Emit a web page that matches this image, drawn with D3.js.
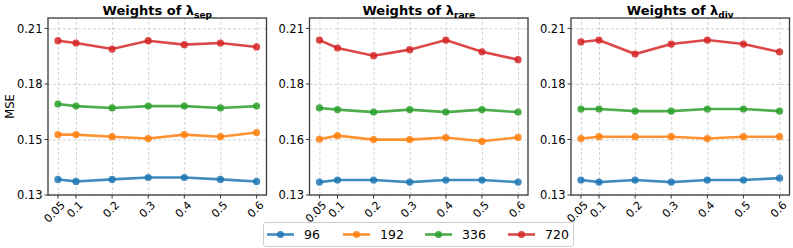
<!DOCTYPE html>
<html>
<head>
<meta charset="utf-8">
<script src="https://cdn.jsdelivr.net/npm/d3@7"></script>
<style>
  body { margin: 0; background: #fff; }
  svg text { font-family: "DejaVu Sans", sans-serif; }
  .grid line { stroke: #b0b0b0; stroke-dasharray: 3,2; stroke-width: 0.8; opacity: 0.7; }
  .grid .domain { display: none; }
</style>
</head>
<body>
<script>
// data
const weights = [0.05, 0.1, 0.2, 0.3, 0.4, 0.5, 0.6];
const weightLabels = ["0.05", "0.1", "0.2", "0.3", "0.4", "0.5", "0.6"];
const horizons = ["96", "192", "336", "720"];
const colors = ["#1f77b4", "#ff7f0e", "#2ca02c", "#d62728"];

// one row per horizon (96, 192, 336, 720)
const sepValues = [
    [0.1375, 0.1365, 0.1375, 0.1384, 0.1384, 0.1375, 0.1365],
    [0.1590, 0.1590, 0.1580, 0.1571, 0.1590, 0.1580, 0.1600],
    [0.1737, 0.1727, 0.1718, 0.1727, 0.1727, 0.1718, 0.1727],
    [0.2041, 0.2030, 0.2001, 0.2041, 0.2022, 0.2030, 0.2011]
];
const rareValues = [
    [0.1362, 0.1372, 0.1372, 0.1362, 0.1372, 0.1372, 0.1362],
    [0.1568, 0.1585, 0.1566, 0.1566, 0.1576, 0.1558, 0.1577],
    [0.1718, 0.1710, 0.1698, 0.1710, 0.1698, 0.1710, 0.1698],
    [0.2044, 0.2006, 0.1969, 0.1998, 0.2044, 0.1988, 0.1950]
];
const divValues = [
    [0.1372, 0.1362, 0.1372, 0.1362, 0.1372, 0.1372, 0.1381],
    [0.1571, 0.1580, 0.1580, 0.1580, 0.1571, 0.1580, 0.1580],
    [0.1713, 0.1713, 0.1703, 0.1703, 0.1713, 0.1713, 0.1703],
    [0.2035, 0.2044, 0.1977, 0.2025, 0.2044, 0.2025, 0.1987]
];

const yTickValues = [0.13, 0.13 + 0.08 / 3, 0.13 + 0.16 / 3, 0.21];
const sepYLabels = ["0.13", "0.15", "0.18", "0.21"];
const rareYLabels = ["0.13", "0.16", "0.18", "0.21"];
const divYLabels = ["0.13", "0.16", "0.18", "0.21"];

const panels = [
    { sub: "sep", values: sepValues, yLabels: sepYLabels, left: 48 },
    { sub: "rare", values: rareValues, yLabels: rareYLabels, left: 309.5 },
    { sub: "div", values: divValues, yLabels: divYLabels, left: 571 }
];

const W = 793, H = 248;
const plotTop = 18, plotBottom = 195, pw = 218.5;

const svg = d3.select("body").append("svg")
    .attr("width", W)
    .attr("height", H);

const x = d3.scaleLinear().domain([0.0225, 0.6275]).range([0, pw]);
const y = d3.scaleLinear().domain([0.13, 0.215]).range([plotBottom, plotTop]);

panels.forEach(p => {
    const g = svg.append("g").attr("transform", "translate(" + p.left + ",0)");

    // gridlines
    g.append("g")
        .attr("class", "grid")
        .attr("transform", "translate(0," + plotBottom + ")")
        .call(d3.axisBottom(x).tickValues(weights).tickFormat("").tickSize(-(plotBottom - plotTop)));
    g.append("g")
        .attr("class", "grid")
        .call(d3.axisLeft(y).tickValues(yTickValues).tickFormat("").tickSize(-pw));

    // lines + markers
    const line = d3.line()
        .x((d, i) => x(weights[i]))
        .y(d => y(d));

    p.values.forEach((vals, k) => {
        g.append("path")
            .datum(vals)
            .attr("fill", "none")
            .attr("stroke", colors[k])
            .attr("stroke-width", 2.6)
            .attr("stroke-opacity", 0.85)
            .attr("d", line);
        g.selectAll(null)
            .data(vals)
            .enter().append("circle")
            .attr("cx", (d, i) => x(weights[i]))
            .attr("cy", d => y(d))
            .attr("r", 3.6)
            .attr("fill", colors[k])
            .attr("fill-opacity", 0.85);
    });

    // frame
    g.append("rect")
        .attr("x", 0).attr("y", plotTop)
        .attr("width", pw).attr("height", plotBottom - plotTop)
        .attr("fill", "none")
        .attr("stroke", "#3a3a3a")
        .attr("stroke-width", 1.3);

    // y axis ticks
    const yAx = g.append("g");
    yTickValues.forEach((v, i) => {
        yAx.append("line")
            .attr("x1", -3.5).attr("x2", 0)
            .attr("y1", y(v)).attr("y2", y(v))
            .attr("stroke", "#3a3a3a");
        yAx.append("text")
            .attr("x", -5.5)
            .attr("y", y(v))
            .attr("dy", "0.36em")
            .attr("text-anchor", "end")
            .attr("font-size", 11.5)
            .text(p.yLabels[i]);
    });

    // x axis ticks
    const xAx = g.append("g");
    weights.forEach((w, i) => {
        xAx.append("line")
            .attr("x1", x(w)).attr("x2", x(w))
            .attr("y1", plotBottom).attr("y2", plotBottom + 3.5)
            .attr("stroke", "#3a3a3a");
        xAx.append("text")
            .attr("transform", "translate(" + (x(w) + 2) + "," + (plotBottom + 5) + ") rotate(-45)")
            .attr("text-anchor", "end")
            .attr("dy", "0.75em")
            .attr("font-size", 11)
            .text(weightLabels[i]);
    });

    // title
    const t = g.append("text")
        .attr("x", pw / 2)
        .attr("y", 15)
        .attr("text-anchor", "middle")
        .attr("font-size", 13)
        .attr("font-weight", "bold");
    t.append("tspan").text("Weights of λ");
    t.append("tspan").attr("font-size", 9).attr("dy", 3).text(p.sub);
});

// y label
svg.append("text")
    .attr("transform", "translate(14," + ((plotTop + plotBottom) / 2) + ") rotate(-90)")
    .attr("text-anchor", "middle")
    .attr("font-size", 11.5)
    .text("MSE");

// legend
const lg = svg.append("g");
lg.append("rect")
    .attr("x", 263.5).attr("y", 222.5)
    .attr("width", 310).attr("height", 24)
    .attr("rx", 2.5)
    .attr("fill", "#fff")
    .attr("stroke", "#d0d0d0");
const legendX = [267, 343, 425, 508];
horizons.forEach((h, k) => {
    const lx = legendX[k];
    lg.append("line")
        .attr("x1", lx).attr("x2", lx + 27)
        .attr("y1", 234.5).attr("y2", 234.5)
        .attr("stroke", colors[k])
        .attr("stroke-width", 2.6)
        .attr("stroke-opacity", 0.85);
    lg.append("circle")
        .attr("cx", lx + 13.5).attr("cy", 234.5)
        .attr("r", 3.6)
        .attr("fill", colors[k])
        .attr("fill-opacity", 0.85);
    lg.append("text")
        .attr("x", lx + 37)
        .attr("y", 234.5)
        .attr("dy", "0.36em")
        .attr("font-size", 12.5)
        .text(h);
});
</script>
</body>
</html>
